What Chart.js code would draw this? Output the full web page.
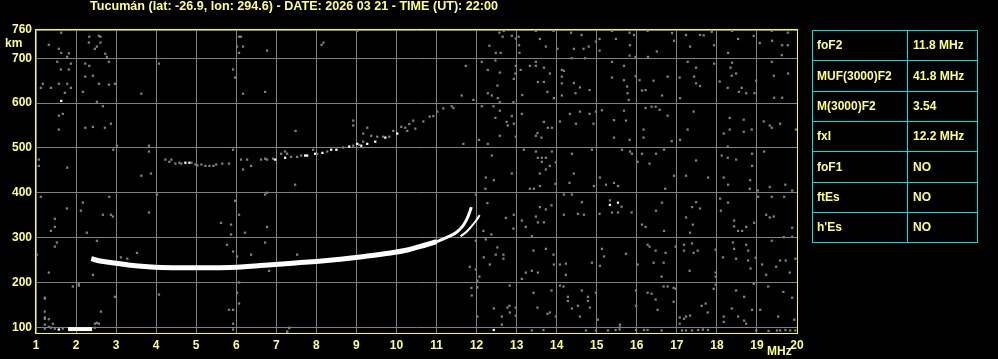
<!DOCTYPE html>
<html>
<head>
<meta charset="utf-8">
<title>Ionogram Tucumán</title>
<script src="https://cdn.jsdelivr.net/npm/chart.js@4"></script>
<style>
  html, body { margin: 0; padding: 0; background: #000; }
  canvas { display: block; }
</style>
</head>
<body>
<canvas id="ionogram" width="998" height="359"></canvas>
<script>
var titleText = "Tucumán (lat: -26.9, lon: 294.6) - DATE: 2026 03 21 - TIME (UT): 22:00";

var freqTicks = [1, 2, 3, 4, 5, 6, 7, 8, 9, 10, 11, 12, 13, 14, 15, 16, 17, 18, 19, 20];
var heightTicks = [100, 200, 300, 400, 500, 600, 700, 763];
var heightLabels = ["100", "200", "300", "400", "500", "600", "700", "760"];

var paramNames = ["foF2", "MUF(3000)F2", "M(3000)F2", "fxI", "foF1", "ftEs", "h'Es"];
var paramValues = ["11.8 MHz", "41.8 MHz", "3.54", "12.2 MHz", "NO", "NO", "NO"];

// ordinary F2 trace [MHz, km]
var oTrace = [[2.38, 253], [2.6, 248], [2.9, 244], [3.3, 239], [3.8, 235], [4.4, 233], [5.0, 233],
  [5.6, 233], [6.2, 235], [6.8, 239], [7.4, 243], [8.0, 247], [8.6, 252], [9.2, 258], [9.8, 265],
  [10.3, 273], [10.7, 283], [11.0, 291]];
var oTail = [[11.0, 291], [11.3, 302], [11.5, 312], [11.65, 325], [11.75, 340], [11.82, 355], [11.87, 368]];
var xTrace = [[11.6, 303], [11.75, 313], [11.88, 326], [11.97, 336], [12.08, 350]];
var lowBar = [[1.8, 96], [2.4, 96]];

// second hop echo
var echoGray = [[4.23,474],[4.33,469],[4.38,474],[4.48,465],[4.58,467],[4.63,465],[4.88,467],[4.98,463],
  [5.03,461],[5.13,463],[5.23,460],[5.33,460],[5.43,460],[5.5,463],[5.65,465],[5.82,465],[6.12,474],
  [6.27,474],[6.62,474],[6.72,476],[6.77,474],[6.92,476],[7.12,487],[7.22,492],[7.27,487],[7.37,480],
  [7.52,480],[7.62,483],[7.92,496],[8.02,487],[8.27,492],[8.67,501],[8.92,505],[9.07,507],[9.17,514],
  [9.27,545],[9.37,527],[9.52,525],[9.67,525],[9.82,525],[9.92,538],[10.12,547],[10.22,545],[10.27,538],
  [10.32,553],[10.42,561],[10.47,543],[8.92,561],[8.92,550],[9.17,532],[10.67,559],[10.83,570],
  [10.92,571],[11.02,581],[11.17,588],[11.38,593],[11.42,589]];
var echoWhite = [[4.73,467],[4.83,467],[6.97,474],[7.22,478],[7.72,483],[7.77,483],[7.97,487],[8.15,489],
  [8.37,496],[8.5,496],[8.82,503],[9.02,509],[9.12,505],[9.27,509],[9.47,514],[9.72,523],[10.02,532]];

// scattered noise
var noiseGray = [
  [12.57,757],[12.68,761],[12.65,748],[12.88,750],[12.98,744],[13.05,748],[12.32,728],[12.48,712],[12.6,712],
  [13.06,729],[13.07,712],[13.48,761],[13.58,743],[13.73,726],[13.92,761],[14.02,721],[14.36,757],[14.62,752],
  [14.98,737],[15.07,743],[15.07,717],[14.67,721],[14.8,726],[14.71,700],[14.37,700],[14.43,721],[15.48,743],
  [15.38,761],[15.82,757],[15.93,752],[15.83,729],[15.82,706],[15.97,703],[16.27,761],[16.28,703],[16.5,715],
  [16.88,756],[16.93,739],[17.23,752],[17.33,726],[17.58,752],[17.67,751],[17.87,759],[17.93,729],[18.28,712],
  [18.38,761],[18.53,743],[18.92,750],[19.07,734],[19.37,761],[19.38,739],[19.63,729],[19.77,729],[19.62,707],
  [19.77,757],
  [11.73,683],[11.63,617],[11.92,607],[12.13,692],[12.28,674],[12.47,695],[12.58,668],[12.52,639],[12.93,654],
  [12.98,683],[12.97,666],[13.1,674],[13.33,683],[13.48,692],[13.48,683],[13.68,679],[13.83,666],[13.53,647],
  [13.68,647],[13.77,625],[13.93,611],[13.14,618],[12.28,622],[12.38,617],[12.53,611],[12.58,602],[12.92,602],
  [14.13,674],[14.13,659],[14.13,644],[14.18,672],[14.43,645],[14.47,622],[14.58,635],[14.82,629],[14.13,617],
  [15.38,692],[15.68,683],[15.38,657],[15.68,651],[15.76,637],[15.77,622],[15.8,607],[15.97,660],[16.07,651],
  [16.42,650],[16.13,628],[16.22,629],[16.63,617],[16.77,659],[17.07,657],[17.08,611],[17.27,692],[17.48,679],
  [17.43,659],[17.48,644],[17.58,638],[17.93,688],[18.07,648],[18.27,634],[18.38,690],[18.34,679],[18.37,661],
  [18.48,666],[18.55,625],[18.62,634],[18.73,622],[18.94,622],[18.98,650],[19.37,692],[19.42,661],[19.43,612],
  [19.63,612],[19.78,666],
  [11.67,509],[12.13,593],[12.47,567],[12.42,593],[12.58,583],[12.75,558],[12.78,550],[12.88,571],[12.93,554],
  [12.58,527],[12.98,525],[13.13,576],[12.06,518],[12.28,509],[13.68,558],[13.78,545],[13.88,545],[13.48,527],
  [13.52,533],[13.62,523],[14.08,559],[14.33,576],[14.48,554],[14.58,581],[14.82,576],[14.92,554],[14.98,581],
  [15.13,584],[15.43,562],[15.68,583],[15.73,561],[15.82,518],[15.43,523],[16.17,541],[16.17,523],[16.22,589],
  [16.37,592],[16.47,592],[16.57,585],[16.77,572],[16.87,515],[17.08,518],[17.27,541],[17.42,581],[18.32,567],
  [18.32,541],[18.17,532],[18.67,563],[18.67,536],[18.87,541],[19.17,559],[19.32,550],[19.37,545],[19.58,554],
  [19.97,541],
  [12.38,483],[12.23,434],[12.43,428],[12.88,443],[13.18,496],[13.48,492],[13.53,478],[13.63,478],[13.73,478],
  [13.63,469],[13.83,460],[13.98,468],[13.88,492],[13.73,452],[13.58,443],[14.38,487],[14.43,443],[14.88,496],
  [15.08,434],[15.63,496],[15.83,492],[15.88,487],[16.02,469],[16.13,487],[16.32,465],[16.48,487],[16.68,496],
  [16.93,438],[17.23,438],[17.48,472],[17.78,434],[18.12,483],[18.27,503],[18.27,478],[18.48,474],[18.88,487],
  [18.88,460],[19.18,492],[18.17,434],[18.83,428],
  [12.22,409],[13.33,409],[13.43,409],[13.58,415],[13.97,420],[14.32,422],[14.93,415],[15.23,418],[15.43,422],
  [15.53,415],[16.71,409],[18.28,418],[18.82,409],[19.02,405],[19.32,413],[19.71,418],[19.88,405],
  [11.98,396],[12.27,377],[12.73,344],[12.93,351],[12.92,320],[12.17,315],[12.37,307],[13.13,338],[13.23,324],
  [13.48,347],[13.58,368],[13.73,363],[13.87,372],[13.53,334],[13.68,334],[13.38,303],[14.18,396],[14.38,396],
  [14.18,351],[14.53,353],[14.63,379],[14.68,351],[15.07,353],[15.33,383],[15.62,369],[15.38,356],[15.53,356],
  [15.87,356],[16.48,360],[16.63,378],[16.13,329],[16.22,324],[16.68,315],[17.33,311],[17.38,368],[17.48,379],
  [17.58,365],[17.4,329],[17.23,345],[18.08,387],[18.1,360],[18.28,378],[18.43,338],[18.43,325],[18.53,315],
  [18.63,315],[18.73,324],[18.93,333],[19.03,391],[19.23,351],[19.32,345],[19.42,347],[19.37,391],[19.68,391],
  [19.88,322],[19.88,302],[19.67,301],
  [11.98,293],[12.23,296],[12.52,278],[12.48,262],[12.67,262],[12.67,253],[12.18,256],[12.33,240],[11.83,235],
  [11.98,229],[12.07,213],[12.02,204],[13.42,271],[13.73,275],[13.92,262],[13.93,240],[13.38,226],[13.23,222],
  [13.13,208],[13.53,222],[14.08,240],[14.23,242],[14.23,217],[14.88,244],[15.13,275],[15.18,258],[15.08,237],
  [15.73,264],[16.02,240],[16.27,284],[16.32,280],[16.47,271],[16.42,244],[16.67,244],[16.72,266],[16.97,280],
  [16.62,213],[17.32,226],[17.18,284],[17.18,271],[17.38,287],[17.42,266],[17.52,271],[17.97,273],[17.97,222],
  [17.97,213],[18.15,256],[18.4,289],[18.43,275],[18.48,253],[18.73,284],[18.78,271],[18.78,249],[18.84,231],
  [19.13,240],[19.23,217],[19.37,293],[19.48,235],[19.58,249],[19.72,249],[19.82,222],[19.96,253],[18.97,255],
  [11.87,188],[11.88,171],[12.02,189],[12.02,124],[12.43,142],[12.63,124],[12.63,106],[12.77,144],[12.82,148],
  [12.83,133],[12.98,144],[12.98,126],[12.83,193],[13.42,177],[13.87,182],[13.52,144],[13.77,130],[13.83,133],
  [13.98,124],[14.08,193],[14.17,191],[14.28,168],[14.28,159],[14.38,142],[14.53,148],[14.58,124],[14.63,182],
  [14.78,168],[14.78,159],[14.83,144],[14.98,177],[15.03,117],[15.58,106],[15.98,182],[15.98,148],[16.27,177],
  [16.37,175],[16.47,162],[16.67,191],[16.77,191],[16.92,188],[16.97,186],[16.92,157],[16.52,139],[17.07,122],
  [17.18,119],[17.23,124],[17.33,126],[17.07,108],[17.62,148],[17.72,153],[17.77,133],[17.92,186],[17.97,195],
  [18.37,142],[18.48,182],[18.53,124],[18.68,168],[18.68,115],[18.73,108],[18.88,139],[18.92,197],[19.08,139],
  [19.28,191],[19.53,124],[19.66,179],[19.88,166],[19.93,117],[18.17,124],[18.17,112],
  [13.38,93],[13.67,94],[14.73,93],[14.98,93],[15.28,93],[15.47,94],[15.57,95],[15.57,100],[15.98,94],
  [16.18,94],[16.27,94],[16.62,93],[17.13,93],[17.23,93],[17.38,93],[17.53,94],[17.65,95],[17.78,94],
  [18.98,93],[19.29,92],[19.5,93],[19.58,93],[19.71,94],[19.83,93],[19.96,93],[7.27,90],[7.32,98],
  [1.63,757],[1.32,730],[1.57,721],[1.63,712],[1.82,711],[1.78,703],[1.53,692],[1.87,688],[1.62,675],
  [1.82,675],[1.17,643],[1.12,634],[1.37,634],[1.57,643],[1.78,643],[1.87,634],[1.72,623],[1.57,572],
  [1.67,576],[1.57,541],[1.07,474],[1.07,460],[1.78,456],[2.33,748],[2.57,750],[2.61,748],[2.32,735],
  [2.52,726],[2.47,721],[2.61,735],[2.73,710],[2.77,703],[2.82,692],[2.23,688],[2.33,683],[2.23,659],
  [2.42,661],[2.57,643],[2.82,641],[2.97,643],[2.17,625],[2.52,603],[2.67,593],[2.87,554],[2.72,545],
  [2.42,547],[2.23,545],[3.02,505],[2.93,496],[4.07,688],[3.63,621],[3.82,505],[3.82,492],[3.87,443],
  [3.63,438],[6.07,748],[6.12,748],[6.02,726],[6.17,726],[6.07,712],[6.77,717],[5.92,675],[5.97,657],
  [6.17,621],[6.72,625],[8.13,730],[8.18,735],[9.02,761],[7.48,538],[5.92,496],[6.17,452],[6.37,460],
  [1.12,391],[2.83,391],[2.17,378],[1.77,365],[2.12,360],[2.67,351],[2.87,351],[2.92,347],[1.47,342],
  [1.47,324],[1.37,315],[2.27,311],[2.52,293],[1.52,289],[1.47,280],[1.02,262],[3.52,266],[3.12,256],
  [3.28,253],[2.42,217],[1.32,222],[4.02,396],[3.82,356],[7.47,418],[6.72,396],[6.77,400],[5.97,382],
  [6.07,351],[5.62,333],[5.87,329],[5.87,307],[6.22,311],[6.77,324],[6.72,289],[5.77,284],[5.92,269],
  [6.37,262],[6.02,258],[7.52,262],[6.82,226],[1.92,191],[2.07,193],[2.07,196],[1.22,164],[1.22,166],
  [2.97,168],[4.07,173],[2.62,135],[6.07,200],[6.02,177],[6.07,153],[5.82,139],[5.92,139],[1.22,135],
  [1.22,119],[1.22,122],[1.32,118],[1.42,108],[1.22,106],[1.32,101],[1.22,97],[1.37,99],[1.47,97],
  [1.67,97],[2.52,110],[2.57,108],[2.47,108],[2.47,99],[5.92,108],[5.92,95],[7.32,99],[7.27,90]
];
var noiseWhite = [[1.63,605],[15.33,373],[15.53,378],[1.57,95],[12.43,94]];

var yellow = "#ffff00";
var labelYellow = "#ffff80";
var gray = "#808080";
var fontFamily = "'Liberation Sans', Arial, sans-serif";

function toXY(list) {
    return list.map(function(p) { return { x: p[0], y: p[1] }; });
}

function dotSet(label, list, color) {
    return {
        label: label,
        data: toXY(list),
        showLine: false,
        pointStyle: "rect",
        pointRadius: 1.6,
        pointBorderWidth: 0,
        pointBackgroundColor: color,
        pointHoverRadius: 0
    };
}

function traceSet(label, list, width) {
    return {
        label: label,
        data: toXY(list),
        showLine: true,
        borderColor: "#ffffff",
        borderWidth: width,
        cubicInterpolationMode: "monotone",
        borderCapStyle: "butt",
        pointRadius: 0,
        pointHoverRadius: 0
    };
}

var overlay = {
    id: "overlay",
    afterDatasetsDraw: function(chart) {
        var ctx = chart.ctx;
        var a = chart.chartArea;
        ctx.save();
        ctx.strokeStyle = yellow;
        ctx.lineWidth = 1;
        ctx.strokeRect(Math.round(a.left) - 0.5, Math.round(a.top) - 0.5,
            Math.round(a.right - a.left) + 1, Math.round(a.bottom - a.top) + 1);
        ctx.restore();
    },
    afterDraw: function(chart) {
        var ctx = chart.ctx;
        ctx.save();
        ctx.fillStyle = labelYellow;
        ctx.textBaseline = "middle";

        // title, squeezed to the width of the original header
        ctx.font = "bold 12px " + fontFamily;
        var w = ctx.measureText(titleText).width;
        ctx.save();
        ctx.translate(90, 7);
        ctx.scale(408 / w, 1);
        ctx.textAlign = "left";
        ctx.fillText(titleText, 0, 0);
        ctx.restore();

        // units
        ctx.textAlign = "left";
        ctx.fillText("km", 5, 44);
        ctx.fillText("MHz", 767, 352);

        // parameter table
        var left = 812, top = 30, split = 907, right = 977, rowH = 30.3;
        var bottom = top + rowH * paramNames.length;
        ctx.strokeStyle = "#00e0e0";
        ctx.lineWidth = 1;
        ctx.beginPath();
        for (var i = 0; i <= paramNames.length; i++) {
            var y = Math.round(top + i * rowH) + 0.5;
            ctx.moveTo(left, y);
            ctx.lineTo(right + 1, y);
        }
        [left, split, right].forEach(function(x) {
            ctx.moveTo(x + 0.5, top);
            ctx.lineTo(x + 0.5, Math.round(bottom) + 1);
        });
        ctx.stroke();

        ctx.fillStyle = labelYellow;
        for (var j = 0; j < paramNames.length; j++) {
            var cy = top + (j + 0.5) * rowH + 1;
            ctx.fillText(paramNames[j], left + 5, cy);
            ctx.fillText(paramValues[j], split + 6, cy);
        }
        ctx.restore();
    }
};

var context = document.getElementById("ionogram");
window.ionogram = new Chart(context, {
    type: "scatter",
    data: {
        datasets: [
            dotSet("noise", noiseGray, gray),
            dotSet("echo 2F", echoGray, gray),
            dotSet("echo 2F strong", echoWhite, "#ffffff"),
            dotSet("noise strong", noiseWhite, "#ffffff"),
            traceSet("F2 ordinary", oTrace, 5),
            traceSet("F2 ordinary cusp", oTail, 3),
            traceSet("F2 extraordinary", xTrace, 2),
            traceSet("low interference", lowBar, 4)
        ]
    },
    plugins: [overlay],
    options: {
        responsive: false,
        animation: false,
        events: [],
        layout: { padding: { left: 0, top: 30, right: 201, bottom: 0 } },
        plugins: {
            legend: { display: false },
            tooltip: { enabled: false }
        },
        scales: {
            x: {
                type: "linear",
                min: 1,
                max: 20,
                afterBuildTicks: function(scale) {
                    scale.ticks = freqTicks.map(function(v) { return { value: v }; });
                },
                afterFit: function(scale) { scale.height = 26; },
                grid: { color: gray, lineWidth: 1, drawTicks: false },
                border: { display: false },
                ticks: {
                    color: labelYellow,
                    font: { family: fontFamily, weight: "bold", size: 12 },
                    padding: 5,
                    maxRotation: 0,
                    autoSkip: false
                }
            },
            y: {
                type: "linear",
                min: 87.3,
                max: 763,
                afterBuildTicks: function(scale) {
                    scale.ticks = heightTicks.map(function(v) { return { value: v }; });
                },
                afterFit: function(scale) { scale.width = 36; },
                grid: { color: gray, lineWidth: 1, drawTicks: false },
                border: { display: false },
                ticks: {
                    color: labelYellow,
                    font: { family: fontFamily, weight: "bold", size: 12 },
                    padding: 4,
                    autoSkip: false,
                    callback: function(value) {
                        var k = heightTicks.indexOf(value);
                        return k >= 0 ? heightLabels[k] : "";
                    }
                }
            }
        }
    }
});
</script>
</body>
</html>
